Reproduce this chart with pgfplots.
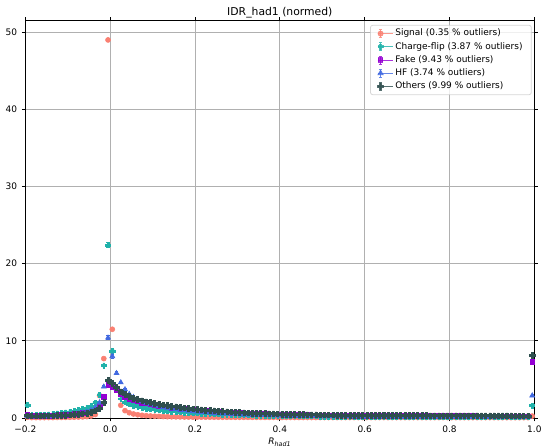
\documentclass[border=0pt]{standalone}
\usepackage{fontspec}
\setmainfont{DejaVu Sans}
\usepackage{pgfplots}
\usepackage{pgfplotstable}
\pgfplotsset{compat=1.18}

\definecolor{csig}{HTML}{FA8072}
\definecolor{ccf}{HTML}{20B2AA}
\definecolor{cfk}{HTML}{9400D3}
\definecolor{chf}{HTML}{4169E1}
\definecolor{cot}{HTML}{2F4F4F}
\definecolor{cgrid}{HTML}{B0B0B0}
\definecolor{cframe}{HTML}{CCCCCC}

\pgfdeclareplotmark{pfill}{%
  \pgfpathmoveto{\pgfqpoint{-0.36\pgfplotmarksize}{\pgfplotmarksize}}%
  \pgfpathlineto{\pgfqpoint{0.36\pgfplotmarksize}{\pgfplotmarksize}}%
  \pgfpathlineto{\pgfqpoint{0.36\pgfplotmarksize}{0.36\pgfplotmarksize}}%
  \pgfpathlineto{\pgfqpoint{\pgfplotmarksize}{0.36\pgfplotmarksize}}%
  \pgfpathlineto{\pgfqpoint{\pgfplotmarksize}{-0.36\pgfplotmarksize}}%
  \pgfpathlineto{\pgfqpoint{0.36\pgfplotmarksize}{-0.36\pgfplotmarksize}}%
  \pgfpathlineto{\pgfqpoint{0.36\pgfplotmarksize}{-\pgfplotmarksize}}%
  \pgfpathlineto{\pgfqpoint{-0.36\pgfplotmarksize}{-\pgfplotmarksize}}%
  \pgfpathlineto{\pgfqpoint{-0.36\pgfplotmarksize}{-0.36\pgfplotmarksize}}%
  \pgfpathlineto{\pgfqpoint{-\pgfplotmarksize}{-0.36\pgfplotmarksize}}%
  \pgfpathlineto{\pgfqpoint{-\pgfplotmarksize}{0.36\pgfplotmarksize}}%
  \pgfpathlineto{\pgfqpoint{-0.36\pgfplotmarksize}{0.36\pgfplotmarksize}}%
  \pgfpathclose
  \pgfusepathqfillstroke
}

% columns: bin centre, then value and error for Signal, Charge-flip, Fake, HF, Others
\pgfplotstableread{
x sig esig cf ecf fk efk hf ehf ot eot
-0.195 0.10 0.01 1.70 0.08 0.50 0.03 0.25 0.03 0.30 0.01
-0.185 0.05 0.01 0.35 0.03 0.27 0.02 0.19 0.02 0.27 0.01
-0.175 0.05 0.01 0.38 0.03 0.28 0.02 0.20 0.02 0.27 0.01
-0.165 0.05 0.01 0.40 0.03 0.29 0.02 0.22 0.02 0.28 0.01
-0.155 0.05 0.01 0.43 0.03 0.30 0.02 0.24 0.02 0.29 0.01
-0.145 0.06 0.01 0.47 0.03 0.32 0.02 0.26 0.02 0.30 0.01
-0.135 0.06 0.01 0.52 0.03 0.34 0.02 0.28 0.02 0.31 0.01
-0.125 0.07 0.01 0.58 0.03 0.37 0.02 0.31 0.02 0.33 0.01
-0.115 0.07 0.01 0.65 0.03 0.40 0.02 0.35 0.02 0.35 0.01
-0.105 0.08 0.01 0.72 0.04 0.43 0.02 0.39 0.02 0.38 0.01
-0.095 0.09 0.01 0.80 0.04 0.47 0.02 0.44 0.02 0.41 0.01
-0.085 0.10 0.01 0.90 0.04 0.52 0.02 0.50 0.03 0.45 0.01
-0.075 0.12 0.01 1.00 0.04 0.58 0.03 0.57 0.03 0.50 0.02
-0.065 0.14 0.01 1.15 0.05 0.65 0.03 0.67 0.03 0.56 0.02
-0.055 0.18 0.01 1.30 0.05 0.75 0.03 0.80 0.04 0.65 0.02
-0.045 0.26 0.01 1.55 0.06 0.90 0.04 1.00 0.05 0.78 0.02
-0.035 0.45 0.01 2.00 0.07 1.15 0.05 1.35 0.06 0.95 0.03
-0.025 2.90 0.03 3.00 0.09 1.60 0.06 2.00 0.08 1.25 0.03
-0.015 7.70 0.08 6.80 0.15 2.75 0.20 4.05 0.12 2.05 0.04
-0.005 49.00 0.25 22.40 0.30 4.30 0.15 10.40 0.25 4.90 0.06
0.005 11.50 0.15 8.70 0.35 4.00 0.10 8.00 0.30 4.50 0.06
0.015 3.90 0.05 3.60 0.15 3.60 0.10 5.80 0.20 4.00 0.05
0.025 1.65 0.03 2.50 0.10 3.05 0.08 4.60 0.15 3.40 0.05
0.035 0.95 0.02 2.08 0.08 2.72 0.07 3.70 0.12 3.05 0.04
0.045 0.68 0.02 1.83 0.07 2.50 0.06 3.10 0.10 2.80 0.04
0.055 0.52 0.01 1.64 0.06 2.30 0.06 2.70 0.09 2.58 0.03
0.065 0.42 0.01 1.49 0.05 2.14 0.05 2.40 0.08 2.40 0.03
0.075 0.35 0.01 1.37 0.05 2.00 0.05 2.15 0.07 2.25 0.03
0.085 0.30 0.01 1.26 0.05 1.88 0.05 1.95 0.07 2.12 0.03
0.095 0.26 0.01 1.17 0.04 1.77 0.04 1.78 0.06 2.00 0.03
0.105 0.23 0.01 1.09 0.04 1.68 0.04 1.63 0.06 1.90 0.02
0.115 0.21 0.01 1.02 0.04 1.59 0.04 1.50 0.05 1.80 0.02
0.125 0.19 0.01 0.96 0.04 1.51 0.04 1.39 0.05 1.71 0.02
0.135 0.17 0.01 0.90 0.03 1.43 0.04 1.29 0.05 1.62 0.02
0.145 0.16 0.01 0.85 0.03 1.36 0.03 1.20 0.04 1.54 0.02
0.155 0.15 0.01 0.80 0.03 1.29 0.03 1.12 0.04 1.46 0.02
0.165 0.14 0.01 0.76 0.03 1.23 0.03 1.05 0.04 1.39 0.02
0.175 0.13 0.01 0.72 0.03 1.17 0.03 0.98 0.04 1.32 0.02
0.185 0.12 0.01 0.68 0.03 1.11 0.03 0.92 0.03 1.25 0.02
0.195 0.115 0.01 0.65 0.03 1.06 0.03 0.86 0.03 1.19 0.02
0.205 0.110 0.01 0.62 0.02 1.01 0.03 0.81 0.03 1.13 0.02
0.215 0.108 0.01 0.59 0.02 0.96 0.03 0.76 0.03 1.08 0.02
0.225 0.105 0.01 0.56 0.02 0.92 0.03 0.72 0.03 1.03 0.02
0.235 0.103 0.01 0.54 0.02 0.88 0.02 0.68 0.03 0.98 0.02
0.245 0.100 0.01 0.52 0.02 0.84 0.02 0.64 0.03 0.94 0.02
0.255 0.097 0.01 0.50 0.02 0.80 0.02 0.61 0.02 0.90 0.02
0.265 0.095 0.01 0.48 0.02 0.77 0.02 0.58 0.02 0.86 0.01
0.275 0.092 0.01 0.46 0.02 0.74 0.02 0.55 0.02 0.82 0.01
0.285 0.090 0.01 0.44 0.02 0.71 0.02 0.52 0.02 0.79 0.01
0.295 0.087 0.01 0.42 0.02 0.68 0.02 0.50 0.02 0.76 0.01
0.305 0.085 0.01 0.41 0.02 0.65 0.02 0.47 0.02 0.73 0.01
0.315 0.083 0.01 0.39 0.02 0.62 0.02 0.45 0.02 0.70 0.01
0.325 0.082 0.01 0.38 0.02 0.60 0.02 0.43 0.02 0.67 0.01
0.335 0.080 0.01 0.36 0.02 0.58 0.02 0.41 0.02 0.65 0.01
0.345 0.079 0.01 0.35 0.02 0.56 0.02 0.39 0.02 0.63 0.01
0.355 0.077 0.01 0.34 0.02 0.54 0.02 0.37 0.02 0.61 0.01
0.365 0.076 0.01 0.33 0.02 0.52 0.02 0.36 0.02 0.59 0.01
0.375 0.075 0.01 0.32 0.02 0.50 0.02 0.34 0.02 0.57 0.01
0.385 0.073 0.01 0.31 0.02 0.49 0.02 0.33 0.02 0.55 0.01
0.395 0.072 0.01 0.30 0.02 0.47 0.02 0.31 0.02 0.53 0.01
0.405 0.071 0.01 0.29 0.02 0.46 0.02 0.30 0.02 0.52 0.01
0.415 0.070 0.01 0.28 0.02 0.44 0.02 0.29 0.02 0.50 0.01
0.425 0.069 0.01 0.27 0.02 0.43 0.02 0.28 0.02 0.49 0.01
0.435 0.067 0.01 0.26 0.02 0.42 0.02 0.27 0.02 0.48 0.01
0.445 0.066 0.01 0.26 0.02 0.41 0.02 0.26 0.02 0.46 0.01
0.455 0.065 0.01 0.25 0.02 0.40 0.02 0.25 0.02 0.45 0.01
0.465 0.064 0.01 0.24 0.02 0.39 0.02 0.24 0.02 0.44 0.01
0.475 0.063 0.01 0.24 0.02 0.38 0.02 0.235 0.02 0.43 0.01
0.485 0.062 0.01 0.23 0.02 0.37 0.02 0.23 0.02 0.42 0.01
0.495 0.060 0.01 0.22 0.02 0.36 0.02 0.22 0.02 0.41 0.01
0.505 0.060 0.01 0.220 0.02 0.355 0.02 0.215 0.02 0.405 0.01
0.515 0.060 0.01 0.220 0.02 0.350 0.02 0.210 0.02 0.400 0.01
0.525 0.060 0.01 0.215 0.02 0.345 0.02 0.206 0.02 0.395 0.01
0.535 0.060 0.01 0.215 0.02 0.340 0.02 0.202 0.02 0.390 0.01
0.545 0.060 0.01 0.210 0.02 0.335 0.02 0.198 0.02 0.385 0.01
0.555 0.060 0.01 0.210 0.02 0.330 0.02 0.195 0.02 0.380 0.01
0.565 0.060 0.01 0.205 0.02 0.325 0.02 0.191 0.02 0.375 0.01
0.575 0.060 0.01 0.200 0.02 0.320 0.02 0.188 0.02 0.370 0.01
0.585 0.060 0.01 0.200 0.02 0.315 0.02 0.184 0.02 0.365 0.01
0.595 0.060 0.01 0.195 0.02 0.310 0.02 0.180 0.02 0.360 0.01
0.605 0.060 0.01 0.190 0.02 0.310 0.02 0.178 0.02 0.357 0.01
0.615 0.060 0.01 0.190 0.02 0.307 0.02 0.175 0.02 0.354 0.01
0.625 0.060 0.01 0.185 0.02 0.305 0.02 0.172 0.02 0.351 0.01
0.635 0.060 0.01 0.185 0.02 0.302 0.02 0.170 0.02 0.348 0.01
0.645 0.060 0.01 0.180 0.02 0.300 0.02 0.167 0.02 0.345 0.01
0.655 0.055 0.01 0.180 0.02 0.297 0.02 0.164 0.02 0.342 0.01
0.665 0.055 0.01 0.175 0.02 0.295 0.02 0.161 0.02 0.339 0.01
0.675 0.055 0.01 0.175 0.02 0.292 0.02 0.158 0.02 0.336 0.01
0.685 0.055 0.01 0.170 0.02 0.290 0.02 0.155 0.02 0.333 0.01
0.695 0.055 0.01 0.170 0.02 0.287 0.02 0.152 0.02 0.330 0.01
0.705 0.055 0.01 0.170 0.02 0.285 0.02 0.150 0.02 0.327 0.01
0.715 0.055 0.01 0.165 0.02 0.282 0.02 0.148 0.02 0.324 0.01
0.725 0.055 0.01 0.165 0.02 0.280 0.02 0.146 0.02 0.321 0.01
0.735 0.055 0.01 0.160 0.02 0.277 0.02 0.144 0.02 0.318 0.01
0.745 0.055 0.01 0.160 0.02 0.275 0.02 0.142 0.02 0.315 0.01
0.755 0.055 0.01 0.160 0.02 0.272 0.02 0.140 0.02 0.312 0.01
0.765 0.055 0.01 0.155 0.02 0.270 0.02 0.138 0.02 0.309 0.01
0.775 0.055 0.01 0.155 0.02 0.267 0.02 0.136 0.02 0.306 0.01
0.785 0.055 0.01 0.150 0.02 0.265 0.02 0.134 0.02 0.303 0.01
0.795 0.055 0.01 0.150 0.02 0.262 0.02 0.132 0.02 0.300 0.01
0.805 0.050 0.01 0.150 0.02 0.260 0.02 0.130 0.02 0.299 0.01
0.815 0.050 0.01 0.150 0.02 0.259 0.02 0.129 0.02 0.298 0.01
0.825 0.050 0.01 0.148 0.02 0.258 0.02 0.128 0.02 0.297 0.01
0.835 0.050 0.01 0.146 0.02 0.257 0.02 0.127 0.02 0.296 0.01
0.845 0.050 0.01 0.145 0.02 0.256 0.02 0.126 0.02 0.295 0.01
0.855 0.050 0.01 0.144 0.02 0.255 0.02 0.125 0.02 0.294 0.01
0.865 0.050 0.01 0.142 0.02 0.254 0.02 0.124 0.02 0.293 0.01
0.875 0.050 0.01 0.140 0.02 0.253 0.02 0.123 0.02 0.292 0.01
0.885 0.050 0.01 0.140 0.02 0.252 0.02 0.122 0.02 0.291 0.01
0.895 0.050 0.01 0.138 0.02 0.251 0.02 0.121 0.02 0.290 0.01
0.905 0.045 0.01 0.136 0.02 0.250 0.02 0.120 0.02 0.289 0.01
0.915 0.045 0.01 0.135 0.02 0.249 0.02 0.119 0.02 0.288 0.01
0.925 0.045 0.01 0.134 0.02 0.248 0.02 0.118 0.02 0.287 0.01
0.935 0.045 0.01 0.133 0.02 0.247 0.02 0.117 0.02 0.286 0.01
0.945 0.045 0.01 0.132 0.02 0.246 0.02 0.116 0.02 0.285 0.01
0.955 0.045 0.01 0.131 0.02 0.245 0.02 0.115 0.02 0.284 0.01
0.965 0.045 0.01 0.130 0.02 0.244 0.02 0.114 0.02 0.283 0.01
0.975 0.045 0.01 0.130 0.02 0.243 0.02 0.113 0.02 0.282 0.01
0.985 0.045 0.01 0.130 0.02 0.242 0.02 0.112 0.02 0.281 0.01
0.995 0.250 0.02 1.600 0.10 7.300 0.15 2.900 0.12 8.100 0.08
}\datatable

\begin{document}
\begin{tikzpicture}
\useasboundingbox (-19pt,-22.5pt) rectangle (387.5pt,313.5pt);
\begin{axis}[
  at={(0pt,0pt)}, anchor=south west,
  scale only axis, width=381.75pt, height=298pt,
  xmin=-0.2, xmax=1.0, ymin=0, ymax=51.5,
  xtick={-0.2,0,0.2,0.4,0.6,0.8,1.0},
  xticklabels={−0.2,0.0,0.2,0.4,0.6,0.8,1.0},
  ytick={0,10,20,30,40,50},
  /pgf/number format/assume math mode=true,
  grid=major,
  major grid style={color=cgrid, line width=0.6pt},
  tick align=outside, major tick length=2.6pt,
  tick style={black, line width=0.6pt},
  axis line style={black, line width=0.6pt},
  tick label style={font=\fontsize{6.75}{8}\selectfont},
  every axis title shift=0pt,
  title={IDR\_had1 (normed)},
  title style={font=\fontsize{8.1}{10}\selectfont, at={(0.5,1)}, anchor=base, yshift=3.5pt},
  xlabel={\textit{R}\textsubscript{\textit{had1}}},
  xlabel style={font=\fontsize{6.75}{8}\selectfont, at={(0.5,0)}, anchor=base, yshift=-20pt},
  legend cell align=left,
  legend style={at={(1,1)}, anchor=north east, xshift=-2pt, yshift=-3.2pt,
    draw=cframe, line width=0.6pt, rounded corners=1.6pt,
    fill=white, fill opacity=0.8, draw opacity=0.8, text opacity=1,
    font=\fontsize{6.75}{8}\selectfont,
    inner xsep=5pt, inner ysep=1.5pt, row sep=0.5pt,
    nodes={inner sep=1.5pt, text height=5pt, text depth=1.4pt}},
  legend image code/.code={%
    \draw[#1, mark=none, solid, line width=0.6pt] (0pt,-3pt) -- (0pt,3pt)
      (-1.2pt,-3pt) -- (1.2pt,-3pt) (-1.2pt,3pt) -- (1.2pt,3pt);
    \draw[#1] plot coordinates {(0pt,0pt)};
    \path (-2.25pt,0pt) -- (9.25pt,0pt);
  },
  errstyle/.style={only marks,
    error bars/y dir=both, error bars/y explicit,
    error bars/error bar style={line width=0.6pt},
    error bars/error mark options={rotate=90, mark size=1.2pt, line width=0.6pt}},
]
\addplot[errstyle, color=csig, mark=*, mark size=1.9pt] table[x=x, y=sig, y error=esig] {\datatable};
\addlegendentry{Signal (0.35 \% outliers)}
\addplot[errstyle, color=ccf, mark=pfill, mark size=1.9pt] table[x=x, y=cf, y error=ecf] {\datatable};
\addlegendentry{Charge-flip (3.87 \% outliers)}
\addplot[errstyle, color=cfk, mark=square*, mark size=1.7pt] table[x=x, y=fk, y error=efk] {\datatable};
\addlegendentry{Fake (9.43 \% outliers)}
\addplot[errstyle, color=chf, mark=triangle*, mark size=2.2pt] table[x=x, y=hf, y error=ehf] {\datatable};
\addlegendentry{HF (3.74 \% outliers)}
\addplot[errstyle, color=cot, mark=pfill, mark size=2.1pt] table[x=x, y=ot, y error=eot] {\datatable};
\addlegendentry{Others (9.99 \% outliers)}
\end{axis}
\end{tikzpicture}
\end{document}
